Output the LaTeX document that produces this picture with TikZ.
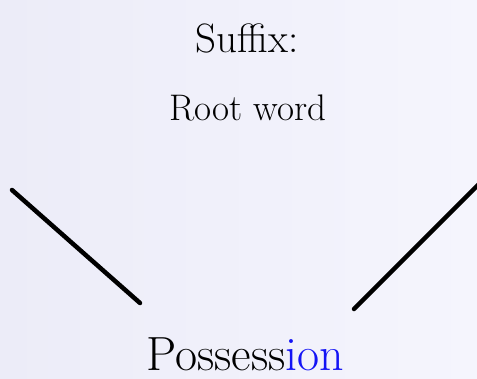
\documentclass[tikz,border=0pt]{standalone}
\usepackage{tikz}
\usetikzlibrary{
    positioning,
    calc
}
\usepackage{xcolor}
\definecolor{bgleft}{RGB}{236,236,248}
\definecolor{bgright}{RGB}{245,245,253}
\definecolor{suffixblue}{RGB}{20,20,245}
\tikzstyle{heading} = [
    anchor=base,
    inner sep=0pt,
    font=\fontsize{38}{42}\selectfont
]
\tikzstyle{word} = [
    anchor=base west,
    inner sep=0pt,
    font=\fontsize{48}{52}\selectfont
]
\tikzstyle{stroke} = [
    line width=4.5pt,
    line cap=round,
    draw=black
]
\begin{document}
\begin{tikzpicture}[x=1pt, y=-1pt]
    % Background
    \shade[left color=bgleft, right color=bgright] (0,0) rectangle (477,378);
    \useasboundingbox (0,0) rectangle (477,378);

    % Headings
    \node[heading, font=\fontsize{41}{44}\selectfont] (suffix) at (247,52) {Suffix:};
    \node[heading, font=\fontsize{37}{40}\selectfont] (root) at (248,120) {Root word};

    % Word
    \node[word] (word) at (146,370) {Possess\textcolor{suffixblue}{ion}};

    % Strokes
    \coordinate (lefttop) at (12,190);
    \coordinate (leftbot) at (140,303);
    \coordinate (rightbot) at (354,309);
    \coordinate (righttop) at (479,184);
    \draw[stroke] (lefttop) -- (leftbot);
    \draw[stroke] (rightbot) -- (righttop);
\end{tikzpicture}
\end{document}
